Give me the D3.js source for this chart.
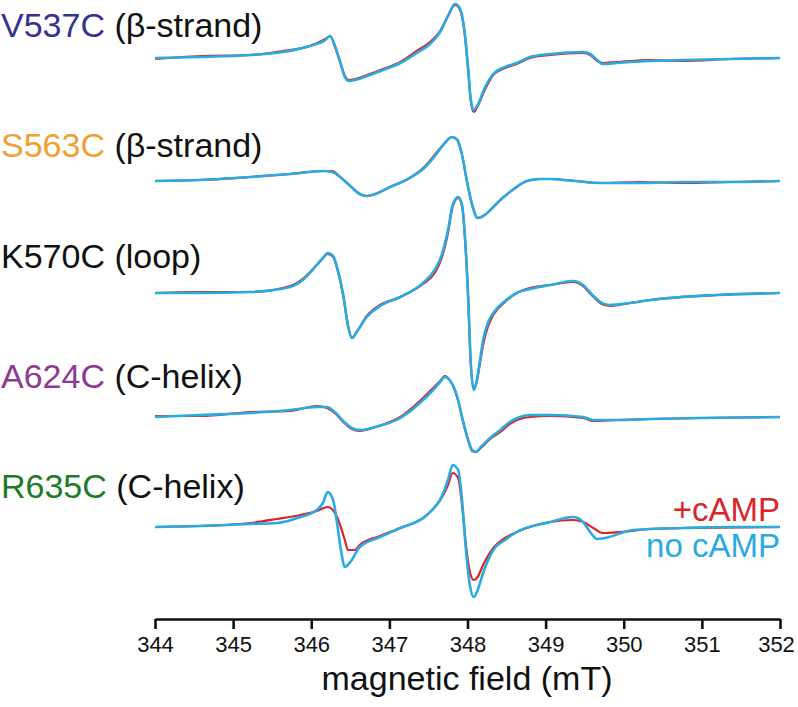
<!doctype html>
<html lang="en">
	<head>
		<meta charset="utf-8" />
		<title>EPR spectra, +cAMP vs no cAMP</title>
		<script type="text/javascript" src="https://d3js.org/d3.v7.min.js"></script>
		<style>
			body { margin: 0; background: #fff; }
		</style>
	</head>

	<body>
		<script type="text/javascript">
			var w = 798;
			var h = 707;
			var campColor = "#d9252a";
			var noCampColor = "#29abe2";

			// tick labels of the field axis (mT)
			var fieldTicks = [344, 345, 346, 347, 348, 349, 350, 351, 352];

			// mutant labels
			var mutantNames = ["V537C", "S563C", "K570C", "A624C", "R635C"];
			var mutantSites = [" (\u03b2-strand)", " (\u03b2-strand)", " (loop)", " (C-helix)", " (C-helix)"];
			var mutantColors = ["#33348e", "#f0a033", "#111111", "#8e3a91", "#1e7b2a"];
			// vertical offset of each spectrum (same units as the signal)
			var traceOffsets = [0, -123, -235, -359, -469];

			// V537C
			var v537cField = [344.00, 344.58, 345.22, 345.64, 345.98, 346.18, 346.24, 346.30, 346.37, 346.43, 346.48, 346.56, 346.75, 346.92, 347.14, 347.35, 347.52, 347.65, 347.75, 347.84, 347.90, 347.96, 348.01, 348.04, 348.08, 348.13, 348.22, 348.33, 348.48, 348.63, 348.80, 349.06, 349.48, 349.57, 349.66, 349.73, 349.91, 350.34, 350.76, 351.36, 352.00];
			var v537cNoCamp = [0, 1, 3, 6, 12, 18, 22, 13, -4, -19, -23, -22, -17, -12, -5, 5, 14, 26, 42, 54, 50, 28, -12, -40, -52, -47, -30, -16, -9, -5, 1, 4, 6, 4, -2, -6, -5, -3, -2, -1, 0];
			var v537cCamp = [-1, 2, 3, 7, 12, 19, 22, 12, -4, -18, -22, -21, -16, -11, -4, 7, 16, 27, 42, 53, 49, 27, -13, -42, -54, -48, -32, -17, -10, -6, 0, 3, 5, 3, -3, -5, -4, -2, -3, -1, 0];

			// S563C
			var s563cField = [344.00, 344.58, 345.22, 345.73, 346.15, 346.27, 346.37, 346.50, 346.62, 346.71, 346.82, 347.01, 347.26, 347.46, 347.61, 347.71, 347.80, 347.87, 347.93, 347.99, 348.06, 348.13, 348.22, 348.33, 348.42, 348.61, 348.76, 348.93, 349.06, 349.38, 349.70, 350.21, 350.76, 351.36, 352.00];
			var s563cNoCamp = [0, 1, 4, 7, 10, 9, 4, -5, -13, -15, -13, -6, 3, 14, 28, 38, 44, 41, 26, 1, -24, -37, -34, -26, -19, -7, 0, 2, 2, 0, -2, -2, -1, -1, 0];
			var s563cCamp = [0, 1, 4, 7, 10, 10, 4, -5, -13, -15, -13, -6, 3, 15, 29, 38, 44, 41, 26, 1, -24, -37, -34, -26, -19, -7, 0, 2, 2, 0, -2, -1, -2, -1, 0];

			// K570C
			var k570cField = [344.00, 344.58, 345.22, 345.73, 345.92, 346.07, 346.15, 346.21, 346.28, 346.34, 346.41, 346.47, 346.52, 346.59, 346.71, 346.88, 347.14, 347.43, 347.58, 347.67, 347.75, 347.81, 347.88, 347.93, 347.97, 348.01, 348.04, 348.08, 348.12, 348.16, 348.20, 348.26, 348.33, 348.48, 348.63, 348.86, 349.06, 349.35, 349.48, 349.60, 349.70, 349.82, 350.08, 350.34, 351.19, 352.00];
			var k570cNoCamp = [0, 0, 1, 6, 15, 28, 35, 40, 37, 23, -2, -32, -45, -38, -24, -13, -4, 10, 23, 38, 63, 88, 96, 88, 53, -7, -67, -97, -87, -67, -47, -30, -20, -8, 0, 5, 8, 12, 8, -2, -9, -12, -10, -7, -2, 0];
			var k570cCamp = [0, 1, 1, 7, 16, 28, 35, 39, 36, 22, -3, -33, -45, -38, -23, -12, -4, 9, 20, 35, 60, 86, 95, 87, 52, -8, -68, -96, -88, -70, -52, -34, -22, -9, 0, 6, 8, 11, 7, -3, -10, -13, -10, -7, -2, 0];

			// A624C
			var a624cField = [344.00, 344.58, 345.22, 345.73, 346.07, 346.20, 346.30, 346.41, 346.52, 346.62, 346.82, 347.14, 347.39, 347.56, 347.65, 347.71, 347.78, 347.87, 347.94, 348.01, 348.06, 348.11, 348.17, 348.29, 348.42, 348.54, 348.67, 348.80, 349.06, 349.48, 349.61, 349.91, 350.34, 350.98, 352.00];
			var a624cNoCamp = [0, 2, 4, 7, 10, 10, 5, -4, -11, -13, -10, -1, 14, 27, 35, 40, 36, 20, -3, -23, -33, -35, -30, -21, -13, -5, 0, 2, 2, 0, -3, -3, -2, -1, 0];
			var a624cCamp = [1, 1, 5, 6, 11, 9, 4, -5, -12, -14, -10, 0, 16, 29, 36, 41, 36, 19, -4, -24, -34, -35, -31, -22, -15, -7, -2, 0, 1, -1, -4, -3, -2, -1, 0];

			// R635C (the two conditions differ here)
			var r635cField = [344.00, 344.58, 345.22, 345.56, 345.86, 346.07, 346.15, 346.21, 346.28, 346.33, 346.38, 346.43, 346.50, 346.62, 346.88, 347.14, 347.48, 347.69, 347.75, 347.81, 347.88, 347.93, 347.98, 348.03, 348.08, 348.13, 348.20, 348.33, 348.48, 348.63, 349.06, 349.35, 349.48, 349.57, 349.66, 349.76, 350.12, 350.76, 351.36, 352.00];
			var r635cNoCamp = [0, 1, 3, 4, 10, 17, 24, 35, 27, 4, -23, -40, -35, -20, -10, -1, 12, 34, 47, 62, 57, 27, -23, -58, -70, -63, -46, -23, -13, -5, 5, 10, 5, -5, -12, -11, -3, -1, 0, 0];
			var r635cCampField = [344.00, 344.58, 345.22, 345.56, 345.86, 346.07, 346.21, 346.33, 346.43, 346.47, 346.56, 346.62, 346.88, 347.14, 347.48, 347.69, 347.75, 347.81, 347.88, 347.93, 347.98, 348.03, 348.08, 348.13, 348.20, 348.33, 348.48, 348.63, 349.06, 349.35, 349.48, 349.61, 349.73, 349.95, 350.34, 350.76, 352.00];
			var r635cCamp = [0, 1, 4, 8, 12, 16, 20, 10, -13, -23, -23, -18, -9, -1, 12, 32, 42, 54, 49, 22, -18, -45, -53, -50, -38, -21, -11, -5, 5, 7, 5, -1, -6, -5, -2, -1, 0];

			var traces = [
				{ camp: [v537cField, v537cCamp], noCamp: [v537cField, v537cNoCamp] },
				{ camp: [s563cField, s563cCamp], noCamp: [s563cField, s563cNoCamp] },
				{ camp: [k570cField, k570cCamp], noCamp: [k570cField, k570cNoCamp] },
				{ camp: [a624cField, a624cCamp], noCamp: [a624cField, a624cNoCamp] },
				{ camp: [r635cCampField, r635cCamp], noCamp: [r635cField, r635cNoCamp] }
			];

			function zipPoints(pair, offset) {
				return pair[0].map(function(f, i) {
					return { field: f, value: pair[1][i] + offset };
				});
			}

			var svg = d3.select("body")
				.append("svg")
				.attr("width", w)
				.attr("height", h)
				.style("font-family", "'Liberation Sans', Arial, Helvetica, sans-serif");

			var x = d3.scaleLinear()
				.domain([344, 352])
				.range([155, 780]);

			// 1 signal unit ~ 1 px, axis sits below the last spectrum
			var y = d3.scaleLinear()
				.domain([0, -561])
				.range([58, 619]);

			var line = d3.line()
				.x(function(d) { return x(d.field); })
				.y(function(d) { return y(d.value); })
				.curve(d3.curveMonotoneX);

			traces.forEach(function(t, i) {
				svg.append("path")
					.attr("d", line(zipPoints(t.camp, traceOffsets[i])))
					.attr("fill", "none")
					.attr("stroke", campColor)
					.attr("stroke-width", 2.2)
					.attr("stroke-linejoin", "round");
				svg.append("path")
					.attr("d", line(zipPoints(t.noCamp, traceOffsets[i])))
					.attr("fill", "none")
					.attr("stroke", noCampColor)
					.attr("stroke-width", 2.6)
					.attr("stroke-linejoin", "round");
			});

			// labels on the left
			var labelBaselines = [37, 157, 268, 388, 498];
			mutantNames.forEach(function(name, i) {
				var t = svg.append("text")
					.attr("x", 1)
					.attr("y", labelBaselines[i])
					.attr("font-size", "34px");
				t.append("tspan").attr("fill", mutantColors[i]).text(name);
				t.append("tspan").attr("fill", "#111").text(mutantSites[i]);
			});

			// legend
			svg.append("text")
				.attr("x", 780).attr("y", 521)
				.attr("text-anchor", "end")
				.attr("font-size", "33px")
				.attr("fill", campColor)
				.text("+cAMP");
			svg.append("text")
				.attr("x", 780).attr("y", 557)
				.attr("text-anchor", "end")
				.attr("font-size", "33px")
				.attr("fill", noCampColor)
				.text("no cAMP");

			// field axis
			var axis = svg.append("g")
				.attr("transform", "translate(0," + y(-561) + ")")
				.call(d3.axisBottom(x)
					.tickValues(fieldTicks)
					.tickFormat(d3.format("d"))
					.tickSize(10)
					.tickSizeOuter(0)
					.tickPadding(7));
			axis.select(".domain").attr("stroke", "#111").attr("stroke-width", 2.6);
			axis.selectAll(".tick line").attr("stroke", "#111").attr("stroke-width", 2.6);
			axis.selectAll(".tick text")
				.attr("fill", "#111")
				.attr("font-size", "22px")
				.attr("font-family", "'Liberation Sans', Arial, sans-serif");
			// keep the last label inside the window
			axis.selectAll(".tick text")
				.filter(function(d) { return d === 352; })
				.attr("dx", -4);

			svg.append("text")
				.attr("x", 467)
				.attr("y", 690)
				.attr("text-anchor", "middle")
				.attr("font-size", "34px")
				.attr("fill", "#111")
				.text("magnetic field (mT)");
		</script>
	</body>
</html>
